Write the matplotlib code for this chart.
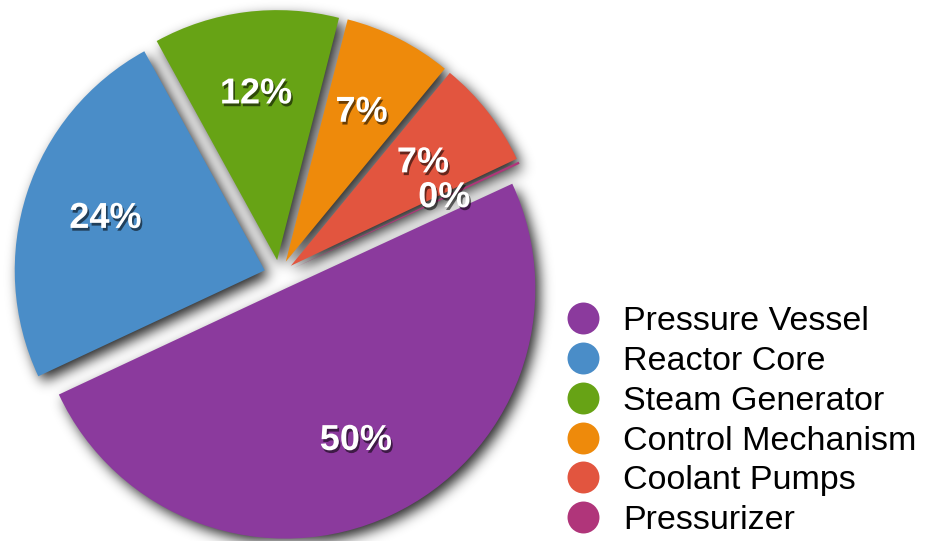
import numpy as np
import matplotlib.pyplot as plt
from matplotlib.lines import Line2D
import matplotlib.patheffects as pe

plt.rcParams['font.family'] = ['Liberation Sans', 'DejaVu Sans']

# Share of each component
parts = ['Pressure Vessel', 'Reactor Core', 'Steam Generator',
         'Control Mechanism', 'Coolant Pumps', 'Pressurizer']
shares = [50, 24, 12, 7, 7, 0.15]
colors = ['#8B3A9D', '#4A8DC8', '#67A315', '#EE8A0B', '#E2553F', '#B0357A']

W, H = 936, 541
R_PX = 250.0          # pie radius in pixels
CX, CY = 279, 266     # pie centre in pixels (from bottom left)

fig = plt.figure(figsize=(W / 100, H / 100), dpi=100)
ax = fig.add_axes([0, 0, 1, 1])

wedges, texts, autotexts = ax.pie(
    shares, colors=colors, startangle=24.8, counterclock=False,
    explode=[0.06] * len(shares), autopct='%.0f%%', pctdistance=0.67,
    wedgeprops=dict(linewidth=0, zorder=2))

xlim = (-CX / R_PX, (W - CX) / R_PX)
ylim = (-CY / R_PX, (H - CY) / R_PX)

# blurred drop shadow: rasterise the slices, shift them, gaussian blur
ox, oy = 4 / R_PX, -6 / R_PX
gx = np.linspace(xlim[0], xlim[1], W)
gy = np.linspace(ylim[0], ylim[1], H)
X, Y = np.meshgrid(gx, gy)
mask = np.zeros((H, W))
for w in wedges:
    cx, cy = w.center
    dx, dy = X - cx - ox, Y - cy - oy
    ang = np.degrees(np.arctan2(dy, dx)) % 360
    inside = ((ang - w.theta1) % 360) <= (w.theta2 - w.theta1)
    mask[(np.hypot(dx, dy) <= w.r) & inside] = 1.0

sigma = 6.5
k = np.arange(-3 * sigma, 3 * sigma + 1)
k = np.exp(-k**2 / (2 * sigma**2))
k /= k.sum()
blur = np.apply_along_axis(lambda m: np.convolve(m, k, mode='same'), 1, mask)
blur = np.apply_along_axis(lambda m: np.convolve(m, k, mode='same'), 0, blur)

shadow = np.zeros((H, W, 4))
shadow[..., 3] = blur * 0.85
ax.imshow(shadow, extent=(xlim[0], xlim[1], ylim[0], ylim[1]),
          origin='lower', interpolation='bilinear', zorder=1)

for t in autotexts:
    t.set_color('white')
    t.set_fontsize(26)
    t.set_fontweight('bold')
    t.set_zorder(5)
    t.set_path_effects([
        pe.SimplePatchShadow(offset=(1.2, -2), shadow_rgbFace='k', alpha=0.55),
        pe.Normal()])

ax.set_xlim(*xlim)
ax.set_ylim(*ylim)
ax.set_aspect('equal')
ax.axis('off')

handles = [Line2D([], [], ls='none', marker='o', markersize=23,
                  markerfacecolor=c, markeredgewidth=0) for c in colors]
ax.legend(handles, parts, loc='upper left',
          bbox_to_anchor=(565.7 / W, 1 - 306 / H), bbox_transform=fig.transFigure,
          frameon=False, fontsize=24.5, handlelength=1.0, handletextpad=0.68,
          labelspacing=0.26, borderpad=0, borderaxespad=0)

fig.savefig('out.png', dpi=100)
